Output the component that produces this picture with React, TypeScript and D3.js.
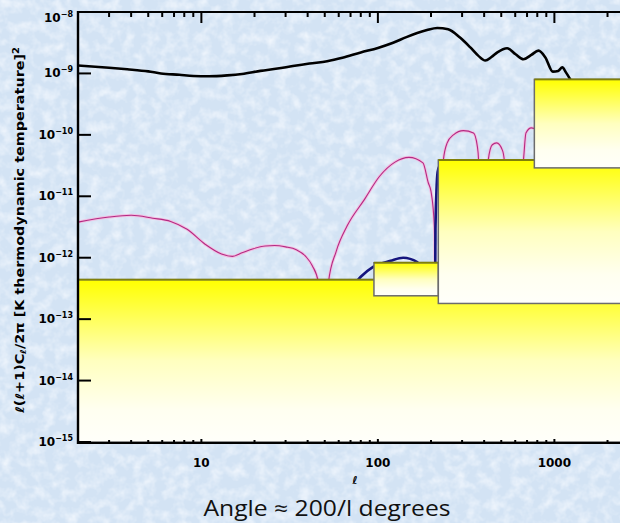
import React from 'react';
import * as d3 from 'd3';

const W = 620;
const H = 523;

// axis ticks
const xMajorTicks = [10, 100, 1000];
const xMajorLabels = ['10', '100', '1000'];
const yTickExponents = [-8, -9, -10, -11, -12, -13, -14, -15];

// black curve (temperature spectrum)
const ttL = [2, 3, 3.8, 5, 5.9, 7.5, 9, 11, 14, 17, 21.6, 27, 33, 41, 51.6, 63, 80, 100, 122, 145, 167, 190, 217, 250, 293, 334, 370, 406, 440, 475, 540, 603, 668, 740, 813, 889, 980, 1050, 1110, 1160, 1230, 1320];
const ttV = [1.35e-9, 1.24e-9, 1.17e-9, 1.08e-9, 1.0e-9, 0.95e-9, 0.91e-9, 0.9e-9, 0.93e-9, 0.98e-9, 1.1e-9, 1.2e-9, 1.32e-9, 1.45e-9, 1.58e-9, 1.8e-9, 2.2e-9, 2.6e-9, 3.15e-9, 3.9e-9, 4.55e-9, 5.1e-9, 5.5e-9, 5.25e-9, 3.8e-9, 2.65e-9, 1.95e-9, 1.62e-9, 1.85e-9, 2.2e-9, 2.57e-9, 2.05e-9, 1.7e-9, 2.0e-9, 2.35e-9, 1.82e-9, 1.07e-9, 1.1e-9, 1.26e-9, 1.05e-9, 0.8e-9, 0.55e-9];

// magenta curve (polarization spectrum, |value|)
const eeL = [2, 3, 4, 5.3, 6.7, 8.3, 10.5, 13, 15, 17, 19.7, 23, 26, 30, 34.5, 39, 42.5, 46, 49, 52.5, 58, 67, 84, 102, 125, 150, 180, 193, 200, 209, 216, 225, 235, 247, 268, 305, 348, 366, 372, 388, 410, 422, 445, 471, 508, 520, 560, 620, 668, 690, 740, 800];
const eeV = [3.8e-12, 4.6e-12, 4.9e-12, 4.4e-12, 3.9e-12, 2.9e-12, 1.66e-12, 1.15e-12, 1.05e-12, 1.2e-12, 1.4e-12, 1.55e-12, 1.58e-12, 1.5e-12, 1.35e-12, 1.05e-12, 7.4e-13, 4.0e-13, 1e-16, 4.0e-13, 1.26e-12, 3.3e-12, 8.9e-12, 2.1e-11, 3.6e-11, 4.3e-11, 3.5e-11, 1.66e-11, 1.2e-11, 3.2e-12, 1e-16, 5e-12, 3.9e-11, 7.4e-11, 1.0e-10, 1.17e-10, 1.07e-10, 6.5e-11, 3.9e-11, 1e-16, 1.5e-11, 3.9e-11, 6.9e-11, 7.4e-11, 5.6e-11, 3.9e-11, 1e-16, 1e-11, 3.9e-11, 1.07e-10, 1.3e-10, 1.2e-10];

// blue curve
const teL = [60, 75, 80, 94, 118, 139, 167, 185, 200, 207, 212, 218, 222];
const teV = [2e-13, 4e-13, 4.9e-13, 7.1e-13, 8.9e-13, 1.0e-12, 8.5e-13, 5e-13, 2e-13, 1e-16, 3e-12, 2.5e-11, 3e-11];

// yellow sensitivity boxes
const boxLmin = [2, 95, 220, 770];
const boxLmax = [3000, 220, 3000, 3000];
const boxTop = [4.4e-13, 8.3e-13, 3.9e-11, 8e-10];
const boxBottom = [1e-15, 2.4e-13, 1.8e-13, 2.9e-11];

const tickFont = "'DejaVu Sans', sans-serif";

export default function App() {
  const x = d3.scaleLog().domain([2, 3000]).range([78, 638.6]);
  const y = d3.scaleLog().domain([1e-15, 1e-8]).range([442, 12]);
  const x0 = 78, yTop = 12, yBot = 442;

  const mk = (ls: number[], vs: number[]) =>
    d3.line<number>()
      .x((_, i) => x(ls[i]))
      .y((_, i) => y(vs[i]))
      .curve(d3.curveMonotoneX)(ls.map((_, i) => i)) || '';

  const ttPath = mk(ttL, ttV);
  const eePath = mk(eeL, eeV);
  const tePath = mk(teL, teV);

  const allTicks = x.ticks();
  const minorTicks = allTicks.filter(t => !xMajorTicks.includes(t) && t > 2);

  return (
    <svg width={W} height={H} style={{ position: 'absolute', left: 0, top: 0 }}>
      <defs>
        <filter id="tex" x="0" y="0" width="100%" height="100%">
          <feTurbulence type="fractalNoise" baseFrequency="0.09" numOctaves="3" seed="5" />
          <feColorMatrix type="matrix" values="0 0 0 0 0.93  0 0 0 0 0.96  0 0 0 0 1  1.5 0 0 0 -0.6" />
        </filter>
        <linearGradient id="yel" x1="0" y1="0" x2="0" y2="1">
          <stop offset="0" stopColor="#ffff00" />
          <stop offset="0.15" stopColor="#ffff38" />
          <stop offset="0.5" stopColor="#ffffbf" />
          <stop offset="0.8" stopColor="#fffff0" />
          <stop offset="1" stopColor="#fffffa" />
        </linearGradient>
        <clipPath id="plot">
          <rect x={x0} y={yTop} width={W - x0} height={yBot - yTop} />
        </clipPath>
      </defs>
      <rect x={0} y={0} width={W} height={H} fill="#d3e3f4" />
      <rect x={0} y={0} width={W} height={H} filter="url(#tex)" />

      <g clipPath="url(#plot)">
        <path d={ttPath} fill="none" stroke="#000" strokeWidth={2.6} />
        <path d={eePath} fill="none" stroke="#f0bfe2" strokeWidth={3} />
        <path d={eePath} fill="none" stroke="#b42a82" strokeWidth={1.1} />
        <path d={tePath} fill="none" stroke="#15157e" strokeWidth={2.6} />
        {boxLmin.map((lm, i) => {
          const bx = x(lm), bw = x(boxLmax[i]) - x(lm);
          const by = y(boxTop[i]), bh = y(boxBottom[i]) - y(boxTop[i]);
          return (
            <g key={i}>
              <rect x={bx} y={by} width={bw} height={bh} fill="url(#yel)" stroke="#6c6c6c" strokeWidth={1.5} />
              <line x1={bx} x2={bx + bw} y1={by} y2={by} stroke="#80800a" strokeWidth={1.8} />
            </g>
          );
        })}
      </g>

      {/* axes */}
      <line x1={x0} x2={W} y1={yTop} y2={yTop} stroke="#000" strokeWidth={2.2} />
      <line x1={x0} x2={W} y1={yBot + 1} y2={yBot + 1} stroke="#000" strokeWidth={2.2} />
      <line x1={x0} x2={x0} y1={yTop - 1} y2={yBot + 2} stroke="#000" strokeWidth={2.4} />
      {xMajorTicks.map(t => (
        <g key={'M' + t}>
          <line x1={x(t)} x2={x(t)} y1={yTop} y2={yTop + 11} stroke="#000" strokeWidth={2} />
          <line x1={x(t)} x2={x(t)} y1={yBot + 1} y2={yBot - 3} stroke="#000" strokeWidth={2} />
        </g>
      ))}
      {minorTicks.map(t => (
        <g key={'m' + t}>
          <line x1={x(t)} x2={x(t)} y1={yTop} y2={yTop + 5} stroke="#000" strokeWidth={2} />
          <line x1={x(t)} x2={x(t)} y1={yBot + 1} y2={yBot - 2} stroke="#000" strokeWidth={2} />
        </g>
      ))}
      {yTickExponents.map(e => (
        <line key={'y' + e} x1={x0} x2={x0 + 13} y1={y(Math.pow(10, e))} y2={y(Math.pow(10, e))} stroke="#000" strokeWidth={2} />
      ))}

      {/* y tick labels */}
      {yTickExponents.map(e => {
        const yy = y(Math.pow(10, e)) + (e === -8 ? 6 : 0);
        return (
          <text key={'yl' + e} x={73} y={yy + 4} textAnchor="end" fontFamily={tickFont} fontWeight="bold" fontSize={12} fill="#000">
            10<tspan fontSize={8} dy={-5}>{String(e).replace('-', '−')}</tspan>
          </text>
        );
      })}

      {/* x tick labels */}
      {xMajorTicks.map((t, i) => (
        <text key={'xl' + t} x={x(t)} y={467} textAnchor="middle" fontFamily={tickFont} fontWeight="bold" fontSize={12} fill="#000">
          {xMajorLabels[i]}
        </text>
      ))}
      <text x={355} y={484} textAnchor="middle" fontFamily={tickFont} fontWeight="bold" fontSize={11} fill="#000">ℓ</text>

      {/* y axis title */}
      <text transform="translate(24,230) rotate(-90)" textAnchor="middle" fontFamily={tickFont} fontWeight="bold" fontSize={11.5} fill="#000" textLength={366} lengthAdjust="spacingAndGlyphs">
        ℓ(ℓ+1)C<tspan fontSize={8} dy={2}>ℓ</tspan><tspan dy={-2}>/2π [K thermodynamic temperature]</tspan><tspan fontSize={8} dy={-5}>2</tspan>
      </text>

      {/* bottom caption */}
      <text x={327} y={516} textAnchor="middle" fontFamily="'Comic Sans MS', 'Open Sans', sans-serif" fontSize={21} fill="#111" textLength={247} lengthAdjust="spacingAndGlyphs">
        Angle ≈ 200/l degrees
      </text>
    </svg>
  );
}
